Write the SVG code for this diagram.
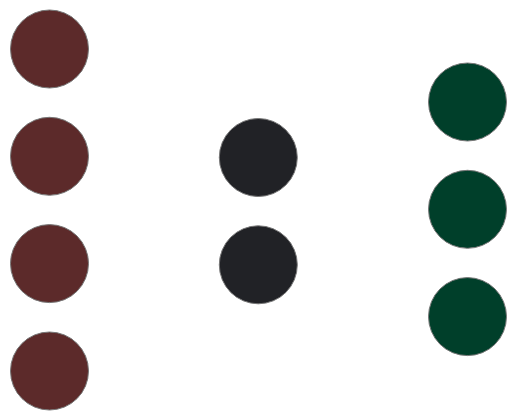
<svg xmlns="http://www.w3.org/2000/svg" width="517" height="420" viewBox="0 0 517 420">
<style>
.n{stroke:#777;stroke-width:1}
.in{fill:#5c2a2a}
.hid{fill:#212226}
.out{fill:#003f2a}
</style>
<rect width="517" height="420" fill="#fff"/>
<g id="connectors"></g>
<g id="in1"><circle class="n in" cx="49.5" cy="49" r="39"/></g>
<g id="in2"><circle class="n in" cx="49.5" cy="156.3" r="39"/></g>
<g id="in3"><circle class="n in" cx="49.5" cy="263.6" r="39"/></g>
<g id="in4"><circle class="n in" cx="49.5" cy="371" r="39"/></g>
<g id="h1"><circle class="n hid" cx="258.3" cy="157.5" r="39"/></g>
<g id="h2"><circle class="n hid" cx="258.3" cy="264.8" r="39"/></g>
<g id="out1"><circle class="n out" cx="467.5" cy="102" r="39"/></g>
<g id="out2"><circle class="n out" cx="467.5" cy="209.3" r="39"/></g>
<g id="out3"><circle class="n out" cx="467.5" cy="316.6" r="39"/></g>
</svg>
